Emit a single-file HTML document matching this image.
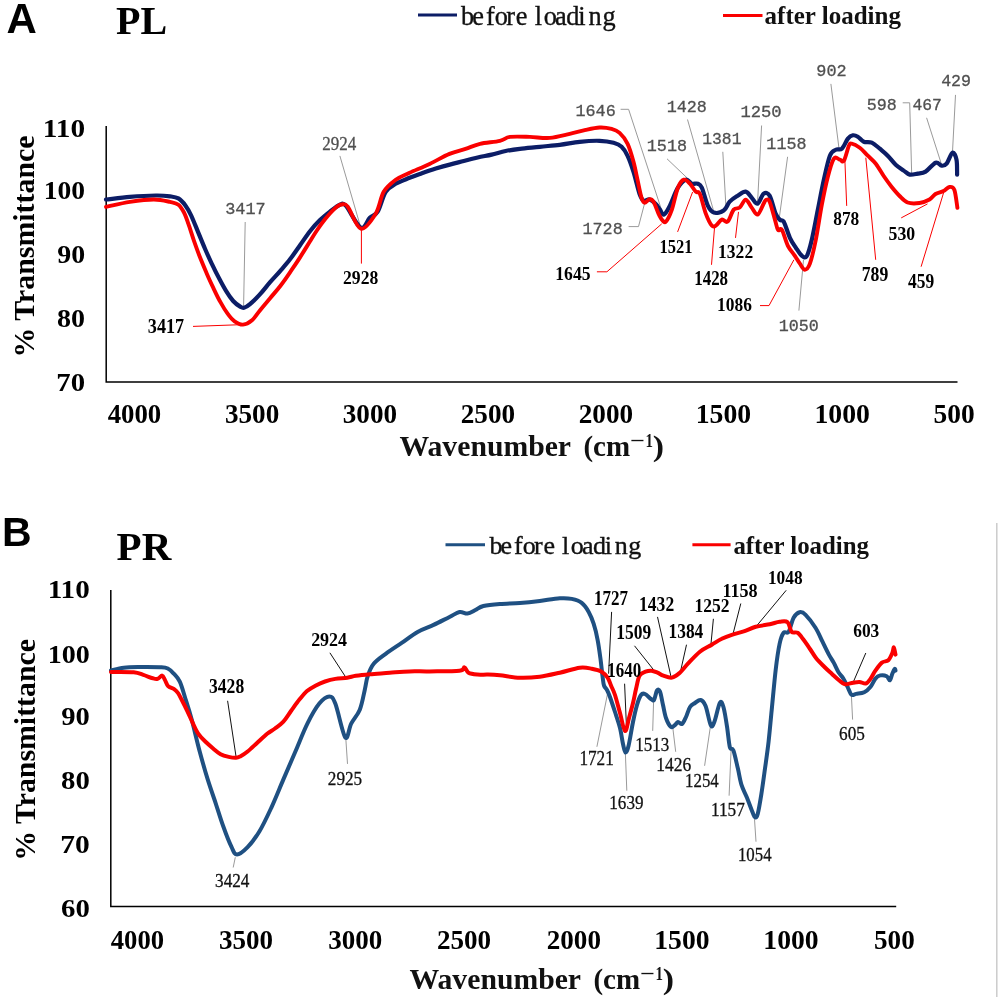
<!DOCTYPE html><html><head><meta charset="utf-8"><title>FTIR spectra</title>
<style>html,body{margin:0;padding:0;background:#fff;}svg{display:block;will-change:transform;}</style></head><body>
<svg width="1003" height="997" viewBox="0 0 1003 997">
<rect width="1003" height="997" fill="#fff"/>
<text x="6.5" y="33" font-family="Liberation Sans" font-weight="bold" font-size="42">A</text>
<text x="116" y="34.3" font-family="Liberation Serif" font-weight="bold" font-size="40">PL</text>
<line x1="418" y1="15" x2="457" y2="15" stroke="#0c1d66" stroke-width="3"/>
<text y="24.50" font-family="Liberation Serif" font-weight="normal" font-size="26.30" fill="#111" stroke="#111" stroke-width="0.35"><tspan x="460.90">b</tspan><tspan x="472.17">e</tspan><tspan x="485.99">f</tspan><tspan x="494.70">o</tspan><tspan x="506.17">r</tspan><tspan x="515.87">e</tspan><tspan x="534.87">l</tspan><tspan x="543.80">o</tspan><tspan x="555.08">a</tspan><tspan x="566.35">d</tspan><tspan x="578.35">i</tspan><tspan x="588.60">n</tspan><tspan x="602.47">g</tspan></text>
<line x1="723" y1="15.4" x2="762.5" y2="15.4" stroke="#fa0000" stroke-width="3"/>
<text x="764.60" y="23.70" font-family="Liberation Serif" font-weight="bold" font-size="25.50" fill="#111" textLength="136.35" lengthAdjust="spacingAndGlyphs" >after loading</text>
<polyline points="106.2,126 106.2,382 957.5,382" fill="none" stroke="#000" stroke-width="1.5"/>
<text x="42.74" y="136.95" font-family="Liberation Serif" font-weight="bold" font-size="25.48" fill="#000" textLength="42.33" lengthAdjust="spacingAndGlyphs">110</text>
<text x="43.80" y="198.85" font-family="Liberation Serif" font-weight="bold" font-size="25.48" fill="#000" textLength="41.25" lengthAdjust="spacingAndGlyphs">100</text>
<text x="57.24" y="262.85" font-family="Liberation Serif" font-weight="bold" font-size="25.48" fill="#000" textLength="27.82" lengthAdjust="spacingAndGlyphs">90</text>
<text x="57.07" y="327.25" font-family="Liberation Serif" font-weight="bold" font-size="25.48" fill="#000" textLength="28.00" lengthAdjust="spacingAndGlyphs">80</text>
<text x="56.36" y="390.85" font-family="Liberation Serif" font-weight="bold" font-size="25.48" fill="#000" textLength="28.74" lengthAdjust="spacingAndGlyphs">70</text>
<text x="107.63" y="423.23" font-family="Liberation Serif" font-weight="bold" font-size="28.00" fill="#000" textLength="53.59" lengthAdjust="spacingAndGlyphs">4000</text>
<text x="224.98" y="423.23" font-family="Liberation Serif" font-weight="bold" font-size="28.00" fill="#000" textLength="54.25" lengthAdjust="spacingAndGlyphs">3500</text>
<text x="342.78" y="423.23" font-family="Liberation Serif" font-weight="bold" font-size="28.00" fill="#000" textLength="54.25" lengthAdjust="spacingAndGlyphs">3000</text>
<text x="460.76" y="423.23" font-family="Liberation Serif" font-weight="bold" font-size="28.00" fill="#000" textLength="54.38" lengthAdjust="spacingAndGlyphs">2500</text>
<text x="578.76" y="423.23" font-family="Liberation Serif" font-weight="bold" font-size="28.00" fill="#000" textLength="54.38" lengthAdjust="spacingAndGlyphs">2000</text>
<text x="695.68" y="423.23" font-family="Liberation Serif" font-weight="bold" font-size="28.00" fill="#000" textLength="55.48" lengthAdjust="spacingAndGlyphs">1500</text>
<text x="814.48" y="423.23" font-family="Liberation Serif" font-weight="bold" font-size="28.00" fill="#000" textLength="55.48" lengthAdjust="spacingAndGlyphs">1000</text>
<text x="933.60" y="423.23" font-family="Liberation Serif" font-weight="bold" font-size="28.00" fill="#000" textLength="41.14" lengthAdjust="spacingAndGlyphs">500</text>
<text x="399.48" y="455.50" font-family="Liberation Serif" font-weight="bold" font-size="28.50" fill="#111" textLength="171.55" lengthAdjust="spacingAndGlyphs" >Wavenumber</text>
<text x="583.43" y="455.50" font-family="Liberation Serif" font-weight="bold" font-size="28.50" fill="#111" textLength="46.67" lengthAdjust="spacingAndGlyphs" >(cm</text>
<text x="629.93" y="446.50" font-family="Liberation Serif" font-weight="bold" font-size="19.50" fill="#111" textLength="14.83" lengthAdjust="spacingAndGlyphs" >−</text>
<text x="645.40" y="446.50" font-family="Liberation Serif" font-weight="bold" font-size="19.50" fill="#111" textLength="7.47" lengthAdjust="spacingAndGlyphs" >1</text>
<text x="652.71" y="455.50" font-family="Liberation Serif" font-weight="bold" font-size="28.50" fill="#111" textLength="11.28" lengthAdjust="spacingAndGlyphs" >)</text>
<text transform="translate(33.8,357.5) rotate(-90)" font-family="Liberation Serif" font-weight="bold" font-size="29.5" textLength="222" lengthAdjust="spacingAndGlyphs">% Transmittance</text>
<polyline points="245.2,222.0 243.6,306.0" fill="none" stroke="#9a9a9a" stroke-width="1"/>
<polyline points="339.9,155.9 360.8,227.7" fill="none" stroke="#9a9a9a" stroke-width="1"/>
<polyline points="620.6,109.3 628.6,109.3 663.4,215.6" fill="none" stroke="#9a9a9a" stroke-width="1"/>
<polyline points="628.6,226.6 638.5,226.6 644.5,203.7" fill="none" stroke="#9a9a9a" stroke-width="1"/>
<polyline points="667.0,158.8 687.9,178.7" fill="none" stroke="#9a9a9a" stroke-width="1"/>
<polyline points="687.5,119.5 713.8,211.6" fill="none" stroke="#9a9a9a" stroke-width="1"/>
<polyline points="722.8,151.8 726.1,209.6" fill="none" stroke="#9a9a9a" stroke-width="1"/>
<polyline points="761.6,125.5 757.6,201.7" fill="none" stroke="#9a9a9a" stroke-width="1"/>
<polyline points="787.6,156.8 779.0,219.9" fill="none" stroke="#9a9a9a" stroke-width="1"/>
<polyline points="830.9,83.9 838.9,147.7" fill="none" stroke="#9a9a9a" stroke-width="1"/>
<polyline points="902.7,102.8 909.7,102.8 911.7,174.6" fill="none" stroke="#9a9a9a" stroke-width="1"/>
<polyline points="926.6,117.8 941.6,164.7" fill="none" stroke="#9a9a9a" stroke-width="1"/>
<polyline points="955.5,94.9 952.5,151.7" fill="none" stroke="#9a9a9a" stroke-width="1"/>
<polyline points="798.9,310.6 803.5,259.8" fill="none" stroke="#9a9a9a" stroke-width="1"/>
<polyline points="193.0,326.4 243.0,324.6" fill="none" stroke="#fa0000" stroke-width="1"/>
<polyline points="361.4,228.7 361.4,263.6" fill="none" stroke="#fa0000" stroke-width="1"/>
<polyline points="596.9,271.8 606.9,271.8 661.7,223.9" fill="none" stroke="#fa0000" stroke-width="1"/>
<polyline points="677.6,231.9 692.6,192.0" fill="none" stroke="#fa0000" stroke-width="1"/>
<polyline points="711.5,264.8 714.5,227.9" fill="none" stroke="#fa0000" stroke-width="1"/>
<polyline points="735.5,237.9 738.5,211.9" fill="none" stroke="#fa0000" stroke-width="1"/>
<polyline points="760.0,305.6 769.0,305.6 793.9,259.8" fill="none" stroke="#fa0000" stroke-width="1"/>
<polyline points="846.7,205.9 844.9,160.7" fill="none" stroke="#fa0000" stroke-width="1"/>
<polyline points="901.2,217.9 927.5,203.9" fill="none" stroke="#fa0000" stroke-width="1"/>
<polyline points="875.7,259.8 865.8,157.7" fill="none" stroke="#fa0000" stroke-width="1"/>
<polyline points="921.1,266.7 943.5,193.0" fill="none" stroke="#fa0000" stroke-width="1"/>
<path d="M106.0,199.5 C110.0,199.1 121.6,197.6 129.9,196.9 C138.2,196.2 149.1,195.6 155.8,195.5 C162.5,195.4 166.2,195.8 170.0,196.3 C173.8,196.8 175.8,196.9 178.4,198.4 C181.0,199.9 183.3,202.6 185.4,205.4 C187.5,208.2 189.0,210.9 191.1,215.3 C193.2,219.8 195.8,226.5 198.1,232.1 C200.4,237.7 202.8,243.6 205.1,249.0 C207.4,254.4 209.8,259.5 212.1,264.4 C214.4,269.3 216.8,274.1 219.2,278.5 C221.5,282.9 223.9,287.4 226.2,291.1 C228.5,294.9 230.9,298.4 233.2,301.0 C235.5,303.6 238.4,305.5 240.2,306.6 C242.0,307.7 242.4,308.2 244.0,307.8 C245.6,307.4 247.3,306.5 250.0,304.2 C252.7,301.9 256.8,297.9 260.1,294.2 C263.5,290.5 266.8,286.0 270.1,282.2 C273.4,278.4 276.8,275.0 280.1,271.1 C283.5,267.2 286.9,263.5 290.2,259.1 C293.5,254.8 296.9,249.7 300.2,245.0 C303.5,240.3 306.9,235.2 310.2,231.0 C313.5,226.8 316.7,223.3 320.0,220.1 C323.3,216.9 326.7,214.2 330.0,211.6 C333.3,209.0 337.3,205.7 339.9,204.7 C342.5,203.7 342.3,201.9 345.8,205.7 C349.3,209.5 356.8,225.7 360.8,227.7 C364.8,229.7 367.0,220.4 369.8,217.7 C372.6,215.0 375.1,216.0 377.7,211.7 C380.3,207.4 382.7,196.5 385.7,191.8 C388.7,187.2 391.7,186.1 395.7,183.8 C399.7,181.5 405.2,179.6 409.6,177.8 C414.0,176.0 417.5,174.8 421.9,173.2 C426.3,171.6 431.1,169.9 435.8,168.5 C440.5,167.1 445.1,165.8 449.8,164.6 C454.5,163.3 459.2,162.2 463.8,161.0 C468.4,159.8 473.1,158.6 477.7,157.5 C482.3,156.4 487.0,155.7 491.7,154.6 C496.4,153.5 500.9,152.0 505.6,151.0 C510.3,150.0 514.2,149.5 519.9,148.8 C525.6,148.1 533.1,147.5 539.8,146.8 C546.4,146.1 553.1,145.6 559.8,144.8 C566.4,144.0 573.1,142.5 579.7,141.8 C586.3,141.1 594.0,140.6 599.6,140.8 C605.2,141.0 609.9,141.8 613.6,142.8 C617.3,143.8 619.3,144.6 621.6,146.8 C623.9,149.0 625.6,151.6 627.6,155.8 C629.6,160.0 631.5,165.5 633.5,171.8 C635.5,178.1 637.8,188.9 639.5,193.7 C641.2,198.5 641.8,199.7 643.5,200.7 C645.2,201.7 647.5,199.0 649.5,199.5 C651.5,200.0 653.8,202.0 655.5,203.7 C657.2,205.4 658.5,207.8 659.9,209.6 C661.3,211.4 662.2,215.2 663.9,214.6 C665.6,213.9 667.6,210.2 669.9,205.7 C672.2,201.2 675.2,192.0 677.9,187.7 C680.6,183.4 683.6,180.4 685.9,179.7 C688.2,179.0 689.8,183.0 691.8,183.7 C693.8,184.4 696.1,183.0 697.8,183.7 C699.5,184.4 700.1,184.0 701.8,187.7 C703.5,191.4 705.8,201.5 707.8,205.7 C709.8,209.8 711.1,211.8 713.8,212.6 C716.4,213.4 721.1,212.4 723.7,210.6 C726.4,208.8 727.4,204.2 729.7,201.7 C732.0,199.2 735.0,197.4 737.7,195.7 C740.4,194.0 743.4,191.4 745.7,191.7 C748.0,192.0 749.7,195.7 751.7,197.7 C753.7,199.7 755.6,204.4 757.6,203.7 C759.6,203.0 761.6,195.0 763.6,193.7 C765.6,192.4 767.6,192.4 769.6,195.7 C771.6,199.0 773.9,209.6 775.6,213.6 C777.3,217.6 778.6,218.5 780.0,219.9 C781.4,221.3 782.2,218.9 783.9,221.9 C785.5,224.9 787.9,233.5 789.9,237.8 C791.9,242.1 793.9,244.8 795.9,247.8 C797.9,250.8 800.1,254.5 801.9,255.8 C803.7,257.1 805.2,258.5 806.9,255.8 C808.5,253.1 810.0,247.5 811.8,239.8 C813.6,232.2 815.8,219.9 817.8,209.9 C819.8,199.9 821.8,189.0 823.8,180.0 C825.8,171.0 827.9,160.8 829.9,155.7 C831.9,150.6 833.9,150.9 835.9,149.7 C837.9,148.5 839.9,150.5 841.9,148.7 C843.9,146.9 846.1,140.9 847.9,138.7 C849.7,136.5 851.1,135.6 852.8,135.3 C854.4,135.0 856.0,135.6 857.8,136.7 C859.6,137.8 861.5,140.7 863.8,141.7 C866.1,142.7 869.1,141.5 871.8,142.7 C874.5,143.9 877.1,146.5 879.8,148.7 C882.4,150.9 885.1,153.0 887.7,155.7 C890.4,158.4 893.0,162.2 895.7,164.7 C898.4,167.2 901.4,168.9 903.7,170.6 C906.0,172.2 907.4,174.1 909.7,174.6 C912.0,175.1 915.0,174.1 917.6,173.6 C920.2,173.1 922.6,173.4 925.6,171.6 C928.6,169.8 932.9,163.7 935.6,162.7 C938.3,161.7 939.8,165.5 941.6,165.7 C943.4,165.9 944.8,165.9 946.6,163.7 C948.4,161.5 950.9,153.4 952.5,152.7 C954.1,152.0 955.7,156.0 956.5,159.7 C957.3,163.3 957.0,172.1 957.1,174.6" fill="none" stroke="#0c1d66" stroke-width="4.2" stroke-linejoin="round" stroke-linecap="round"/>
<path d="M106.0,206.9 C110.0,206.1 121.9,203.1 129.9,201.9 C137.9,200.7 147.1,199.5 153.8,199.5 C160.5,199.5 165.9,201.0 170.0,201.9 C174.1,202.8 176.1,202.9 178.4,204.7 C180.7,206.5 182.3,209.3 184.0,212.5 C185.7,215.7 186.7,219.0 188.3,223.7 C190.0,228.4 192.0,235.2 193.9,240.6 C195.8,246.0 197.4,250.6 199.5,256.0 C201.6,261.4 204.2,267.5 206.5,272.9 C208.8,278.3 211.2,283.4 213.5,288.3 C215.8,293.2 218.2,298.2 220.6,302.4 C222.9,306.6 225.3,310.5 227.6,313.6 C229.9,316.8 232.0,319.5 234.6,321.3 C237.2,323.1 240.1,324.8 243.0,324.6 C245.9,324.4 249.2,322.7 252.0,320.3 C254.8,317.9 257.1,313.9 260.1,310.2 C263.1,306.5 266.8,302.2 270.1,298.2 C273.4,294.2 276.8,290.5 280.1,286.2 C283.5,281.9 286.9,277.0 290.2,272.1 C293.5,267.2 296.9,262.3 300.2,257.1 C303.5,251.9 307.4,245.5 310.2,241.0 C313.0,236.5 314.7,233.7 317.2,230.0 C319.7,226.3 322.2,222.8 325.2,219.1 C328.2,215.4 332.5,210.5 335.2,208.1 C337.9,205.7 339.4,204.7 341.5,204.5 C343.6,204.3 344.6,202.7 347.8,206.7 C351.0,210.7 356.2,227.5 360.8,228.7 C365.4,229.9 371.9,219.8 375.7,213.7 C379.5,207.5 380.4,197.5 383.7,191.8 C387.0,186.2 391.4,183.0 395.7,179.8 C400.0,176.6 404.0,175.5 409.6,172.8 C415.2,170.2 423.0,167.1 429.6,163.9 C436.2,160.8 443.5,156.4 449.5,153.9 C455.5,151.4 460.4,150.6 465.5,148.9 C470.6,147.2 474.3,145.2 480.0,143.8 C485.7,142.5 494.9,142.0 499.9,140.8 C504.9,139.7 504.9,137.6 509.9,136.9 C514.9,136.2 523.2,136.7 529.9,136.9 C536.5,137.1 543.2,138.4 549.8,137.9 C556.4,137.4 563.7,135.2 569.7,133.9 C575.7,132.6 580.7,131.0 585.7,129.9 C590.7,128.8 595.3,127.7 599.6,127.5 C603.9,127.3 608.3,128.0 611.6,128.9 C614.9,129.8 616.9,130.4 619.6,132.9 C622.3,135.4 625.3,139.0 627.6,143.8 C629.9,148.6 631.9,155.8 633.5,161.8 C635.1,167.8 636.2,173.7 637.5,179.7 C638.8,185.7 640.3,193.9 641.5,197.7 C642.7,201.5 643.2,202.4 644.5,202.7 C645.8,203.0 648.0,199.5 649.5,199.3 C651.0,199.1 652.0,199.3 653.5,201.7 C655.0,204.1 657.1,210.6 658.5,213.6 C659.9,216.6 660.7,218.3 661.9,219.6 C663.1,220.9 664.2,223.3 665.9,221.6 C667.6,219.9 669.9,215.2 671.9,209.6 C673.9,203.9 675.9,192.7 677.9,187.7 C679.9,182.7 681.9,180.4 683.9,179.7 C685.9,179.0 687.9,181.7 689.9,183.7 C691.9,185.7 694.1,190.0 695.8,191.7 C697.4,193.4 698.1,190.0 699.8,193.7 C701.5,197.3 703.8,208.3 705.8,213.6 C707.8,218.9 710.1,223.6 711.8,225.6 C713.5,227.6 714.1,226.6 715.8,225.6 C717.5,224.6 719.8,220.3 721.8,219.6 C723.8,218.9 725.7,223.3 727.7,221.6 C729.7,219.9 731.7,211.9 733.7,209.6 C735.7,207.3 737.7,209.2 739.7,207.6 C741.7,205.9 743.7,199.7 745.7,199.7 C747.7,199.7 749.7,205.1 751.7,207.6 C753.7,210.1 755.6,215.2 757.6,214.6 C759.6,213.9 762.2,206.1 763.6,203.7 C765.0,201.2 765.0,200.2 766.0,199.9 C767.0,199.6 768.1,198.4 769.6,201.7 C771.1,205.0 773.6,215.2 775.0,219.9 C776.4,224.6 776.8,228.2 778.0,229.9 C779.2,231.6 780.4,227.2 782.0,229.9 C783.6,232.6 785.8,241.5 787.9,245.8 C790.0,250.1 792.9,252.8 794.9,255.8 C796.9,258.8 798.2,261.4 799.9,263.7 C801.6,266.0 803.2,269.7 804.9,269.7 C806.6,269.7 808.1,268.7 809.9,263.7 C811.7,258.7 813.8,249.6 815.8,239.8 C817.8,230.0 819.8,215.5 821.8,205.0 C823.8,194.5 825.8,184.7 827.8,177.0 C829.8,169.3 831.9,161.6 833.9,158.7 C835.9,155.8 838.2,159.4 839.9,159.7 C841.6,160.0 842.4,163.0 843.9,160.7 C845.4,158.4 847.6,148.5 848.9,145.7 C850.2,142.9 850.0,143.4 851.8,143.7 C853.6,144.0 857.1,145.7 859.8,147.7 C862.5,149.7 865.1,153.0 867.8,155.7 C870.5,158.4 873.1,160.3 875.8,163.7 C878.4,167.1 881.1,172.1 883.7,176.0 C886.4,179.9 889.1,183.7 891.7,187.0 C894.4,190.3 897.0,193.4 899.6,196.0 C902.2,198.6 904.3,201.3 907.6,202.5 C910.9,203.7 915.9,203.5 919.5,203.0 C923.1,202.5 926.8,201.0 929.5,199.5 C932.2,198.0 933.2,195.4 935.5,194.0 C937.8,192.6 941.2,192.2 943.5,191.0 C945.8,189.8 947.6,187.2 949.4,187.0 C951.2,186.8 953.1,186.5 954.4,190.0 C955.7,193.5 956.9,204.9 957.4,207.9" fill="none" stroke="#fa0000" stroke-width="3.9" stroke-linejoin="round" stroke-linecap="round"/>
<text x="225.25" y="214.04" font-family="Liberation Mono" font-weight="normal" font-size="16.20" fill="#505050" stroke="#505050" stroke-width="0.3" textLength="40.47" lengthAdjust="spacingAndGlyphs">3417</text>
<text x="575.49" y="115.74" font-family="Liberation Mono" font-weight="normal" font-size="16.20" fill="#505050" stroke="#505050" stroke-width="0.3" textLength="40.20" lengthAdjust="spacingAndGlyphs">1646</text>
<text x="582.49" y="233.84" font-family="Liberation Mono" font-weight="normal" font-size="16.20" fill="#505050" stroke="#505050" stroke-width="0.3" textLength="40.22" lengthAdjust="spacingAndGlyphs">1728</text>
<text x="646.79" y="151.34" font-family="Liberation Mono" font-weight="normal" font-size="16.20" fill="#505050" stroke="#505050" stroke-width="0.3" textLength="40.32" lengthAdjust="spacingAndGlyphs">1518</text>
<text x="666.69" y="111.74" font-family="Liberation Mono" font-weight="normal" font-size="16.20" fill="#505050" stroke="#505050" stroke-width="0.3" textLength="40.22" lengthAdjust="spacingAndGlyphs">1428</text>
<text x="702.22" y="144.04" font-family="Liberation Mono" font-weight="normal" font-size="16.20" fill="#505050" stroke="#505050" stroke-width="0.3" textLength="39.27" lengthAdjust="spacingAndGlyphs">1381</text>
<text x="740.46" y="117.14" font-family="Liberation Mono" font-weight="normal" font-size="16.20" fill="#505050" stroke="#505050" stroke-width="0.3" textLength="41.20" lengthAdjust="spacingAndGlyphs">1250</text>
<text x="766.39" y="148.64" font-family="Liberation Mono" font-weight="normal" font-size="16.20" fill="#505050" stroke="#505050" stroke-width="0.3" textLength="40.22" lengthAdjust="spacingAndGlyphs">1158</text>
<text x="816.34" y="75.74" font-family="Liberation Mono" font-weight="normal" font-size="16.20" fill="#505050" stroke="#505050" stroke-width="0.3" textLength="30.35" lengthAdjust="spacingAndGlyphs">902</text>
<text x="866.76" y="110.04" font-family="Liberation Mono" font-weight="normal" font-size="16.20" fill="#505050" stroke="#505050" stroke-width="0.3" textLength="30.04" lengthAdjust="spacingAndGlyphs">598</text>
<text x="912.48" y="110.04" font-family="Liberation Mono" font-weight="normal" font-size="16.20" fill="#505050" stroke="#505050" stroke-width="0.3" textLength="29.40" lengthAdjust="spacingAndGlyphs">467</text>
<text x="941.17" y="85.74" font-family="Liberation Mono" font-weight="normal" font-size="16.20" fill="#505050" stroke="#505050" stroke-width="0.3" textLength="29.89" lengthAdjust="spacingAndGlyphs">429</text>
<text x="778.79" y="330.84" font-family="Liberation Mono" font-weight="normal" font-size="16.20" fill="#505050" stroke="#505050" stroke-width="0.3" textLength="40.03" lengthAdjust="spacingAndGlyphs">1050</text>
<text x="322.15" y="150.12" font-family="Liberation Serif" font-weight="normal" font-size="18.81" fill="#505050" stroke="#505050" stroke-width="0.3" textLength="34.01" lengthAdjust="spacingAndGlyphs">2924</text>
<text x="147.82" y="333.30" font-family="Liberation Serif" font-weight="bold" font-size="20.74" fill="#000" textLength="36.33" lengthAdjust="spacingAndGlyphs">3417</text>
<text x="343.06" y="284.31" font-family="Liberation Serif" font-weight="bold" font-size="19.26" fill="#000" textLength="35.22" lengthAdjust="spacingAndGlyphs">2928</text>
<text x="555.29" y="279.51" font-family="Liberation Serif" font-weight="bold" font-size="19.11" fill="#000" textLength="35.26" lengthAdjust="spacingAndGlyphs">1645</text>
<text x="659.38" y="252.61" font-family="Liberation Serif" font-weight="bold" font-size="19.11" fill="#000" textLength="33.08" lengthAdjust="spacingAndGlyphs">1521</text>
<text x="694.25" y="285.10" font-family="Liberation Serif" font-weight="bold" font-size="20.00" fill="#000" textLength="33.82" lengthAdjust="spacingAndGlyphs">1428</text>
<text x="718.10" y="257.61" font-family="Liberation Serif" font-weight="bold" font-size="19.26" fill="#000" textLength="35.06" lengthAdjust="spacingAndGlyphs">1322</text>
<text x="717.11" y="311.42" font-family="Liberation Serif" font-weight="bold" font-size="18.22" fill="#000" textLength="34.80" lengthAdjust="spacingAndGlyphs">1086</text>
<text x="833.22" y="224.71" font-family="Liberation Serif" font-weight="bold" font-size="19.26" fill="#000" textLength="26.05" lengthAdjust="spacingAndGlyphs">878</text>
<text x="888.49" y="239.61" font-family="Liberation Serif" font-weight="bold" font-size="19.11" fill="#000" textLength="26.69" lengthAdjust="spacingAndGlyphs">530</text>
<text x="861.69" y="280.50" font-family="Liberation Serif" font-weight="bold" font-size="20.74" fill="#000" textLength="26.55" lengthAdjust="spacingAndGlyphs">789</text>
<text x="907.96" y="287.50" font-family="Liberation Serif" font-weight="bold" font-size="20.74" fill="#000" textLength="26.17" lengthAdjust="spacingAndGlyphs">459</text>
<text x="2" y="545.9" font-family="Liberation Sans" font-weight="bold" font-size="41">B</text>
<text x="116.6" y="559.8" font-family="Liberation Serif" font-weight="bold" font-size="41">PR</text>
<line x1="445.5" y1="544.7" x2="485" y2="544.7" stroke="#1f5082" stroke-width="3"/>
<text y="553.70" font-family="Liberation Serif" font-weight="normal" font-size="26.00" fill="#111" stroke="#111" stroke-width="0.35"><tspan x="489.50">b</tspan><tspan x="500.55">e</tspan><tspan x="514.11">f</tspan><tspan x="522.65">o</tspan><tspan x="533.91">r</tspan><tspan x="543.42">e</tspan><tspan x="562.06">l</tspan><tspan x="570.82">o</tspan><tspan x="581.88">a</tspan><tspan x="592.94">d</tspan><tspan x="604.71">i</tspan><tspan x="614.77">n</tspan><tspan x="628.37">g</tspan></text>
<line x1="692.4" y1="544.7" x2="730.6" y2="544.7" stroke="#fa0000" stroke-width="3"/>
<text x="733.40" y="553.70" font-family="Liberation Serif" font-weight="bold" font-size="25.50" fill="#111" textLength="135.64" lengthAdjust="spacingAndGlyphs" >after loading</text>
<polyline points="110.8,590 110.8,906.6 896.2,906.6" fill="none" stroke="#000" stroke-width="1.5"/>
<text x="47.65" y="598.46" font-family="Liberation Serif" font-weight="bold" font-size="24.30" fill="#000" textLength="42.12" lengthAdjust="spacingAndGlyphs">110</text>
<text x="47.65" y="662.96" font-family="Liberation Serif" font-weight="bold" font-size="24.30" fill="#000" textLength="42.12" lengthAdjust="spacingAndGlyphs">100</text>
<text x="61.22" y="725.16" font-family="Liberation Serif" font-weight="bold" font-size="24.30" fill="#000" textLength="28.57" lengthAdjust="spacingAndGlyphs">90</text>
<text x="61.05" y="789.46" font-family="Liberation Serif" font-weight="bold" font-size="24.30" fill="#000" textLength="28.75" lengthAdjust="spacingAndGlyphs">80</text>
<text x="60.31" y="853.26" font-family="Liberation Serif" font-weight="bold" font-size="24.30" fill="#000" textLength="29.51" lengthAdjust="spacingAndGlyphs">70</text>
<text x="61.02" y="916.96" font-family="Liberation Serif" font-weight="bold" font-size="24.30" fill="#000" textLength="28.78" lengthAdjust="spacingAndGlyphs">60</text>
<text x="110.74" y="948.73" font-family="Liberation Serif" font-weight="bold" font-size="27.41" fill="#000" textLength="53.38" lengthAdjust="spacingAndGlyphs">4000</text>
<text x="218.98" y="948.73" font-family="Liberation Serif" font-weight="bold" font-size="27.41" fill="#000" textLength="54.05" lengthAdjust="spacingAndGlyphs">3500</text>
<text x="328.18" y="948.73" font-family="Liberation Serif" font-weight="bold" font-size="27.41" fill="#000" textLength="54.05" lengthAdjust="spacingAndGlyphs">3000</text>
<text x="436.96" y="948.73" font-family="Liberation Serif" font-weight="bold" font-size="27.41" fill="#000" textLength="54.17" lengthAdjust="spacingAndGlyphs">2500</text>
<text x="546.76" y="948.73" font-family="Liberation Serif" font-weight="bold" font-size="27.41" fill="#000" textLength="54.17" lengthAdjust="spacingAndGlyphs">2000</text>
<text x="654.29" y="948.73" font-family="Liberation Serif" font-weight="bold" font-size="27.41" fill="#000" textLength="55.27" lengthAdjust="spacingAndGlyphs">1500</text>
<text x="763.39" y="948.73" font-family="Liberation Serif" font-weight="bold" font-size="27.41" fill="#000" textLength="55.27" lengthAdjust="spacingAndGlyphs">1000</text>
<text x="874.01" y="948.73" font-family="Liberation Serif" font-weight="bold" font-size="27.41" fill="#000" textLength="40.72" lengthAdjust="spacingAndGlyphs">500</text>
<text x="409.48" y="988.70" font-family="Liberation Serif" font-weight="bold" font-size="28.50" fill="#111" textLength="171.55" lengthAdjust="spacingAndGlyphs" >Wavenumber</text>
<text x="593.43" y="988.70" font-family="Liberation Serif" font-weight="bold" font-size="28.50" fill="#111" textLength="46.67" lengthAdjust="spacingAndGlyphs" >(cm</text>
<text x="639.93" y="979.70" font-family="Liberation Serif" font-weight="bold" font-size="19.50" fill="#111" textLength="14.83" lengthAdjust="spacingAndGlyphs" >−</text>
<text x="655.40" y="979.70" font-family="Liberation Serif" font-weight="bold" font-size="19.50" fill="#111" textLength="7.47" lengthAdjust="spacingAndGlyphs" >1</text>
<text x="662.71" y="988.70" font-family="Liberation Serif" font-weight="bold" font-size="28.50" fill="#111" textLength="11.28" lengthAdjust="spacingAndGlyphs" >)</text>
<text transform="translate(35.3,860.8) rotate(-90)" font-family="Liberation Serif" font-weight="bold" font-size="29.5" textLength="221.8" lengthAdjust="spacingAndGlyphs">% Transmittance</text>
<line x1="996.8" y1="523" x2="996.8" y2="997" stroke="#c8c8c8" stroke-width="1.4"/>
<polyline points="227.6,700.8 236.2,757.6" fill="none" stroke="#111" stroke-width="1"/>
<polyline points="329.9,652.8 346.8,678.8" fill="none" stroke="#111" stroke-width="1"/>
<polyline points="611.6,611.9 608.6,673.7" fill="none" stroke="#111" stroke-width="1"/>
<polyline points="657.5,616.9 671.0,676.7" fill="none" stroke="#111" stroke-width="1"/>
<polyline points="634.5,645.8 653.5,669.7" fill="none" stroke="#111" stroke-width="1"/>
<polyline points="624.6,683.7 626.6,730.0" fill="none" stroke="#111" stroke-width="1"/>
<polyline points="686.5,644.7 680.9,669.7" fill="none" stroke="#111" stroke-width="1"/>
<polyline points="713.4,618.8 710.8,645.7" fill="none" stroke="#111" stroke-width="1"/>
<polyline points="740.8,603.5 732.8,634.8" fill="none" stroke="#111" stroke-width="1"/>
<polyline points="786.2,590.3 756.7,625.8" fill="none" stroke="#111" stroke-width="1"/>
<polyline points="865.8,653.0 853.0,682.7" fill="none" stroke="#111" stroke-width="1"/>
<polyline points="235.3,857.3 233.2,867.5" fill="none" stroke="#9a9a9a" stroke-width="1"/>
<polyline points="347.5,763.9 345.9,739.9" fill="none" stroke="#9a9a9a" stroke-width="1"/>
<polyline points="596.9,746.8 607.9,692.0" fill="none" stroke="#9a9a9a" stroke-width="1"/>
<polyline points="626.8,790.7 625.4,753.8" fill="none" stroke="#9a9a9a" stroke-width="1"/>
<polyline points="652.7,730.9 653.7,698.0" fill="none" stroke="#9a9a9a" stroke-width="1"/>
<polyline points="675.7,751.8 672.7,726.9" fill="none" stroke="#9a9a9a" stroke-width="1"/>
<polyline points="704.6,765.8 710.5,725.9" fill="none" stroke="#9a9a9a" stroke-width="1"/>
<polyline points="729.1,795.7 731.1,749.8" fill="none" stroke="#9a9a9a" stroke-width="1"/>
<polyline points="756.0,841.7 754.5,819.2" fill="none" stroke="#9a9a9a" stroke-width="1"/>
<polyline points="852.6,719.6 851.4,695.5" fill="none" stroke="#9a9a9a" stroke-width="1"/>
<path d="M111.0,670.5 C113.2,670.0 119.1,668.3 123.9,667.7 C128.7,667.1 134.0,667.1 140.0,667.0 C146.0,666.9 155.4,667.0 160.0,667.3 C164.6,667.5 165.5,667.4 167.8,668.5 C170.1,669.6 171.8,671.5 173.8,673.7 C175.8,675.9 177.8,677.4 179.8,681.7 C181.8,686.0 183.7,693.3 185.7,699.6 C187.7,705.9 189.4,711.0 191.7,719.6 C194.0,728.2 197.0,741.5 199.7,751.5 C202.4,761.5 205.0,770.8 207.7,779.4 C210.4,788.0 213.0,795.3 215.7,803.3 C218.3,811.3 220.9,820.0 223.6,827.3 C226.2,834.6 229.4,842.7 231.6,847.2 C233.8,851.8 234.3,854.6 237.0,854.6 C239.7,854.6 243.8,851.1 247.6,847.2 C251.3,843.3 255.5,837.9 259.5,831.2 C263.5,824.6 267.5,815.9 271.5,807.3 C275.5,798.7 279.4,788.7 283.4,779.4 C287.4,770.1 291.4,760.8 295.4,751.5 C299.4,742.2 303.4,731.6 307.4,723.6 C311.4,715.6 315.6,708.1 319.3,703.6 C323.0,699.1 326.6,696.5 329.3,696.5 C332.0,696.5 332.6,696.8 335.3,703.6 C338.0,710.4 342.7,734.2 345.3,737.5 C347.9,740.8 348.8,728.2 351.2,723.6 C353.6,719.0 357.5,715.4 359.8,709.7 C362.1,704.1 363.5,695.4 364.8,689.7 C366.1,684.1 366.3,680.1 367.8,675.8 C369.3,671.5 370.7,667.5 373.7,663.8 C376.7,660.1 381.0,657.3 385.7,653.8 C390.4,650.3 396.4,646.5 401.7,642.9 C407.0,639.2 412.3,634.9 417.6,631.9 C422.9,628.9 428.3,627.4 433.6,624.9 C438.9,622.4 445.2,619.1 449.5,617.0 C453.8,614.9 456.5,612.6 459.5,612.0 C462.5,611.4 464.9,613.9 467.5,613.6 C470.1,613.3 472.8,611.3 475.4,610.0 C478.0,608.7 479.3,607.0 483.4,606.0 C487.5,605.0 493.8,604.4 499.9,603.9 C506.0,603.4 513.2,603.4 519.9,602.9 C526.5,602.4 533.1,601.7 539.8,600.9 C546.4,600.1 554.5,598.6 559.8,598.3 C565.1,598.0 568.1,598.1 571.7,598.9 C575.4,599.7 578.9,600.7 581.7,602.9 C584.5,605.1 586.7,608.4 588.7,611.9 C590.7,615.4 592.2,619.2 593.7,623.9 C595.2,628.5 596.5,633.8 597.6,639.8 C598.8,645.8 599.8,653.8 600.6,659.8 C601.4,665.8 601.9,671.7 602.5,676.0 C603.1,680.3 603.2,683.2 604.0,685.5 C604.8,687.8 606.0,688.1 607.0,690.0 C608.0,691.9 608.7,693.3 610.0,697.0 C611.3,700.7 613.3,706.8 615.0,712.0 C616.7,717.2 618.7,722.7 620.0,728.0 C621.3,733.3 622.1,739.9 623.0,744.0 C623.9,748.1 624.6,752.2 625.5,752.5 C626.4,752.8 627.2,751.1 628.5,746.0 C629.8,740.9 631.6,728.8 633.0,722.0 C634.4,715.2 635.7,709.5 637.0,705.0 C638.3,700.5 639.7,696.8 641.0,695.0 C642.3,693.2 643.3,693.3 645.0,694.0 C646.7,694.7 649.5,698.0 651.0,699.0 C652.5,700.0 653.0,701.4 654.0,700.0 C655.0,698.6 656.0,691.9 657.0,690.5 C658.0,689.1 659.0,689.1 660.0,691.5 C661.0,693.9 662.0,700.6 663.0,705.0 C664.0,709.4 664.7,714.3 666.0,718.0 C667.3,721.7 669.5,725.8 671.0,727.0 C672.5,728.2 673.8,725.8 675.0,725.0 C676.2,724.2 676.8,722.2 678.0,722.0 C679.2,721.8 680.7,724.8 682.0,724.0 C683.3,723.2 684.7,719.8 686.0,717.0 C687.3,714.2 688.5,709.3 690.0,707.0 C691.5,704.7 693.2,704.2 695.0,703.0 C696.8,701.8 698.8,699.5 700.6,700.0 C702.4,700.5 703.9,701.8 705.6,706.0 C707.3,710.2 709.3,722.7 710.8,725.3 C712.3,727.9 712.9,725.5 714.4,721.7 C715.9,717.9 718.4,705.1 719.9,702.7 C721.4,700.3 722.3,703.1 723.5,707.2 C724.7,711.3 726.1,720.5 727.1,727.1 C728.1,733.7 728.8,743.0 729.8,746.9 C730.8,750.8 732.0,746.9 733.4,750.5 C734.8,754.1 736.5,762.9 737.9,768.6 C739.2,774.3 740.0,780.1 741.5,784.9 C743.0,789.7 745.1,793.0 746.9,797.5 C748.7,802.0 751.0,808.6 752.4,811.9 C753.8,815.2 754.2,817.1 755.1,817.4 C756.0,817.7 756.8,817.6 757.8,813.7 C758.8,809.8 760.2,801.4 761.4,793.9 C762.6,786.4 763.8,777.3 765.0,768.6 C766.2,759.9 767.5,751.3 768.6,741.5 C769.7,731.7 770.5,722.0 771.7,710.0 C772.9,698.0 774.4,680.7 775.7,669.7 C777.0,658.7 778.3,649.9 779.6,643.8 C780.9,637.6 782.1,634.8 783.6,632.8 C785.1,630.8 786.9,634.3 788.6,631.8 C790.3,629.3 791.8,621.1 793.6,617.8 C795.4,614.5 797.6,612.7 799.6,612.2 C801.6,611.7 803.0,612.2 805.6,614.8 C808.2,617.4 812.7,623.3 815.5,627.8 C818.3,632.3 820.3,637.2 822.5,641.7 C824.7,646.2 827.0,651.1 828.9,654.6 C830.8,658.1 832.1,659.7 833.7,662.6 C835.3,665.5 836.9,669.5 838.5,672.2 C840.1,674.9 841.7,675.9 843.3,678.6 C844.9,681.3 846.9,685.6 848.2,688.3 C849.6,691.0 850.1,693.8 851.4,694.7 C852.7,695.6 854.1,694.3 856.2,693.9 C858.3,693.5 861.8,693.5 864.2,692.3 C866.6,691.1 868.7,689.0 870.6,686.7 C872.5,684.4 873.8,680.5 875.4,678.6 C877.0,676.7 878.4,675.8 880.3,675.4 C882.2,675.0 885.1,675.4 886.7,676.2 C888.3,677.0 889.0,680.7 889.9,680.3 C890.8,679.9 891.5,675.7 892.3,673.8 C893.1,671.9 894.2,669.5 894.7,669.0 C895.2,668.5 895.4,670.3 895.5,670.6" fill="none" stroke="#1f5082" stroke-width="4" stroke-linejoin="round" stroke-linecap="round"/>
<path d="M111.0,671.9 C114.8,672.0 128.3,671.7 133.7,672.2 C139.1,672.7 140.1,673.9 143.3,674.9 C146.5,675.9 150.4,677.6 152.8,678.2 C155.2,678.9 156.0,679.2 157.6,678.8 C159.2,678.4 161.0,675.4 162.2,675.6 C163.4,675.8 164.0,678.4 165.0,680.1 C166.0,681.9 166.6,684.6 168.1,686.1 C169.6,687.6 172.4,687.9 174.1,689.1 C175.8,690.3 176.8,691.4 178.1,693.2 C179.4,695.0 180.3,697.1 181.8,700.0 C183.3,702.9 185.4,707.0 187.2,710.8 C189.0,714.6 190.8,718.8 192.6,722.6 C194.4,726.4 195.9,730.2 198.0,733.4 C200.1,736.5 202.7,739.0 205.3,741.5 C207.9,744.0 210.9,746.6 213.4,748.7 C215.9,750.8 218.1,752.8 220.6,754.2 C223.1,755.6 226.1,756.3 228.7,756.9 C231.3,757.5 234.0,757.9 236.0,757.8 C238.0,757.7 238.7,757.2 240.6,756.2 C242.5,755.2 244.9,753.7 247.6,751.5 C250.3,749.3 253.7,746.0 257.0,743.0 C260.3,740.0 264.5,735.9 267.5,733.5 C270.5,731.1 272.4,730.5 275.0,728.5 C277.6,726.5 280.7,724.5 283.4,721.6 C286.1,718.7 288.3,714.7 291.0,711.0 C293.7,707.3 296.7,702.9 299.4,699.6 C302.1,696.3 304.3,693.3 307.0,691.0 C309.7,688.7 312.4,687.3 315.4,685.7 C318.4,684.1 321.7,682.6 325.0,681.5 C328.3,680.4 331.6,679.5 335.3,678.9 C339.0,678.3 343.9,678.2 347.3,677.7 C350.7,677.2 352.1,676.4 355.8,675.8 C359.6,675.2 364.2,674.7 369.8,674.2 C375.4,673.7 383.1,673.3 389.7,672.8 C396.3,672.3 403.0,671.6 409.6,671.4 C416.2,671.2 421.3,671.5 429.6,671.4 C437.9,671.3 453.7,671.5 459.5,670.8 C465.3,670.1 463.0,667.1 464.5,667.4 C466.0,667.7 466.4,671.6 468.5,672.8 C470.6,674.0 474.1,674.3 477.4,674.6 C480.6,674.9 484.2,674.5 488.0,674.6 C491.8,674.7 494.6,674.8 499.9,675.3 C505.2,675.8 513.2,677.5 519.9,677.7 C526.5,677.9 533.1,677.5 539.8,676.7 C546.4,675.9 553.1,674.2 559.8,672.7 C566.4,671.2 574.4,668.4 579.7,667.7 C585.0,667.0 588.1,668.0 591.7,668.7 C595.4,669.4 599.0,670.2 601.6,671.7 C604.2,673.2 606.0,675.4 607.6,677.7 C609.2,680.0 609.8,682.6 611.0,685.5 C612.2,688.4 613.5,690.4 615.0,695.0 C616.5,699.6 618.3,707.0 620.0,713.0 C621.7,719.0 623.5,730.2 625.0,731.0 C626.5,731.8 627.7,722.7 629.0,718.0 C630.3,713.3 631.8,707.8 633.0,703.0 C634.2,698.2 634.9,693.5 636.0,689.0 C637.1,684.5 637.9,678.6 639.5,675.7 C641.1,672.8 643.5,672.5 645.5,671.7 C647.5,670.9 649.5,670.5 651.5,670.7 C653.5,670.9 655.5,671.9 657.5,672.7 C659.5,673.5 661.0,674.9 663.4,675.7 C665.8,676.5 669.2,678.1 672.0,677.6 C674.8,677.1 677.2,675.0 679.9,672.7 C682.5,670.4 684.6,667.2 687.9,663.7 C691.2,660.2 695.9,654.9 699.9,651.7 C703.9,648.5 708.1,646.9 711.8,644.7 C715.4,642.6 718.5,640.4 721.8,638.8 C725.1,637.1 728.1,636.0 731.8,634.8 C735.4,633.6 739.7,632.7 743.7,631.4 C747.7,630.1 751.4,628.0 755.7,626.8 C760.0,625.6 765.7,625.0 769.7,624.2 C773.7,623.4 776.6,622.1 779.6,621.8 C782.6,621.5 785.6,620.5 787.6,622.2 C789.6,623.9 789.9,630.0 791.6,631.8 C793.3,633.6 795.6,631.5 797.6,632.8 C799.6,634.1 801.5,637.1 803.6,639.8 C805.7,642.5 807.9,646.0 810.0,649.0 C812.1,652.0 813.7,655.1 816.0,658.0 C818.3,660.9 821.3,663.8 824.0,666.5 C826.7,669.2 829.5,671.7 832.0,674.0 C834.5,676.3 836.9,678.6 839.0,680.3 C841.1,682.0 842.6,683.9 844.9,684.3 C847.2,684.7 850.6,683.1 853.0,682.7 C855.4,682.3 857.3,681.8 859.4,681.9 C861.5,682.0 863.9,684.0 865.8,683.5 C867.7,683.0 869.0,680.8 870.6,678.6 C872.2,676.5 873.5,673.3 875.4,670.6 C877.3,667.9 879.8,664.3 881.9,662.6 C884.0,660.9 886.6,661.8 888.3,660.2 C890.0,658.6 891.4,655.1 892.3,653.0 C893.2,650.9 893.4,647.1 893.9,647.4 C894.4,647.7 895.2,653.4 895.5,654.6" fill="none" stroke="#fa0000" stroke-width="4" stroke-linejoin="round" stroke-linecap="round"/>
<text x="209.04" y="693.20" font-family="Liberation Serif" font-weight="bold" font-size="20.15" fill="#000" textLength="35.14" lengthAdjust="spacingAndGlyphs">3428</text>
<text x="311.14" y="645.71" font-family="Liberation Serif" font-weight="bold" font-size="19.26" fill="#000" textLength="35.99" lengthAdjust="spacingAndGlyphs">2924</text>
<text x="593.94" y="605.30" font-family="Liberation Serif" font-weight="bold" font-size="20.00" fill="#000" textLength="34.08" lengthAdjust="spacingAndGlyphs">1727</text>
<text x="639.10" y="610.70" font-family="Liberation Serif" font-weight="bold" font-size="20.59" fill="#000" textLength="35.06" lengthAdjust="spacingAndGlyphs">1432</text>
<text x="616.20" y="639.20" font-family="Liberation Serif" font-weight="bold" font-size="20.00" fill="#000" textLength="34.93" lengthAdjust="spacingAndGlyphs">1509</text>
<text x="607.24" y="676.50" font-family="Liberation Serif" font-weight="bold" font-size="20.59" fill="#000" textLength="33.90" lengthAdjust="spacingAndGlyphs">1640</text>
<text x="668.61" y="637.60" font-family="Liberation Serif" font-weight="bold" font-size="20.74" fill="#000" textLength="34.61" lengthAdjust="spacingAndGlyphs">1384</text>
<text x="694.50" y="611.61" font-family="Liberation Serif" font-weight="bold" font-size="19.11" fill="#000" textLength="35.06" lengthAdjust="spacingAndGlyphs">1252</text>
<text x="722.39" y="596.71" font-family="Liberation Serif" font-weight="bold" font-size="19.26" fill="#000" textLength="35.30" lengthAdjust="spacingAndGlyphs">1158</text>
<text x="767.91" y="583.71" font-family="Liberation Serif" font-weight="bold" font-size="19.11" fill="#000" textLength="34.66" lengthAdjust="spacingAndGlyphs">1048</text>
<text x="853.21" y="636.71" font-family="Liberation Serif" font-weight="bold" font-size="18.96" fill="#000" textLength="26.09" lengthAdjust="spacingAndGlyphs">603</text>
<text x="215.08" y="886.52" font-family="Liberation Serif" font-weight="normal" font-size="18.67" fill="#111" stroke="#111" stroke-width="0.3" textLength="34.39" lengthAdjust="spacingAndGlyphs">3424</text>
<text x="327.85" y="784.62" font-family="Liberation Serif" font-weight="normal" font-size="18.67" fill="#111" stroke="#111" stroke-width="0.3" textLength="34.32" lengthAdjust="spacingAndGlyphs">2925</text>
<text x="579.39" y="765.20" font-family="Liberation Serif" font-weight="normal" font-size="20.15" fill="#111" stroke="#111" stroke-width="0.3" textLength="34.45" lengthAdjust="spacingAndGlyphs">1721</text>
<text x="609.30" y="809.41" font-family="Liberation Serif" font-weight="normal" font-size="19.11" fill="#111" stroke="#111" stroke-width="0.3" textLength="34.20" lengthAdjust="spacingAndGlyphs">1639</text>
<text x="635.30" y="750.61" font-family="Liberation Serif" font-weight="normal" font-size="19.11" fill="#111" stroke="#111" stroke-width="0.3" textLength="34.06" lengthAdjust="spacingAndGlyphs">1513</text>
<text x="656.16" y="771.22" font-family="Liberation Serif" font-weight="normal" font-size="18.67" fill="#111" stroke="#111" stroke-width="0.3" textLength="34.96" lengthAdjust="spacingAndGlyphs">1426</text>
<text x="685.12" y="786.51" font-family="Liberation Serif" font-weight="normal" font-size="19.26" fill="#111" stroke="#111" stroke-width="0.3" textLength="33.64" lengthAdjust="spacingAndGlyphs">1254</text>
<text x="711.01" y="816.41" font-family="Liberation Serif" font-weight="normal" font-size="19.11" fill="#111" stroke="#111" stroke-width="0.3" textLength="33.88" lengthAdjust="spacingAndGlyphs">1157</text>
<text x="737.92" y="861.42" font-family="Liberation Serif" font-weight="normal" font-size="18.81" fill="#111" stroke="#111" stroke-width="0.3" textLength="33.64" lengthAdjust="spacingAndGlyphs">1054</text>
<text x="839.06" y="740.21" font-family="Liberation Serif" font-weight="normal" font-size="18.96" fill="#111" stroke="#111" stroke-width="0.3" textLength="25.81" lengthAdjust="spacingAndGlyphs">605</text>
</svg></body></html>
